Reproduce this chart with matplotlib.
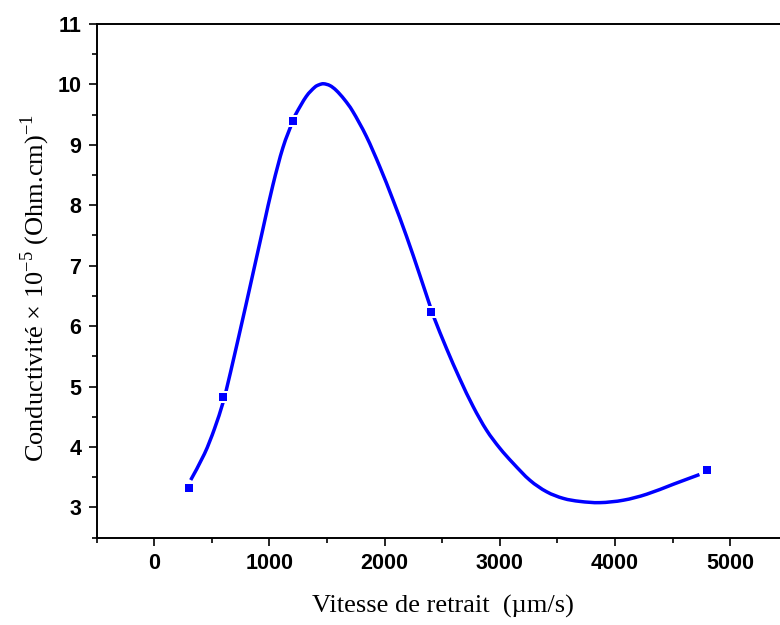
import matplotlib
matplotlib.use("Agg")
import matplotlib.pyplot as plt
from matplotlib.path import Path
from matplotlib.patches import PathPatch
from matplotlib.ticker import MultipleLocator

# measured points
vitesse = [300, 600, 1200, 2400, 4800]
conduct = [3.33, 4.82, 9.40, 6.24, 3.62]

# smooth curve
curve_x = [316, 435, 522, 594, 632, 696, 768, 826, 942, 1029, 1116, 1200,
           1232, 1319, 1391, 1430, 1470, 1525, 1580, 1650, 1724, 1841, 1957,
           2072, 2189, 2304, 2400, 2435, 2537, 2652, 2768, 2884, 3000, 3116,
           3261, 3406, 3551, 3696, 3870, 4072, 4276, 4507, 4733]
curve_y = [3.454, 3.886, 4.300, 4.72, 5.00, 5.52, 6.12, 6.61, 7.60, 8.33,
           8.95, 9.38, 9.52, 9.80, 9.95, 9.993, 10.01, 9.98, 9.90, 9.75,
           9.55, 9.14, 8.64, 8.09, 7.49, 6.85, 6.30, 6.11, 5.63, 5.13, 4.67,
           4.28, 3.98, 3.73, 3.45, 3.26, 3.15, 3.10, 3.08, 3.12, 3.22, 3.385,
           3.545]

xticks = [0, 1000, 2000, 3000, 4000, 5000]
yticks = [3, 4, 5, 6, 7, 8, 9, 10, 11]


def smooth_path(xs, ys):
    # catmull-rom through the read points, as bezier segments
    pts = list(zip(xs, ys))
    verts = [pts[0]]
    codes = [Path.MOVETO]
    n = len(pts)
    for i in range(n - 1):
        p0 = pts[max(i - 1, 0)]
        p1 = pts[i]
        p2 = pts[i + 1]
        p3 = pts[min(i + 2, n - 1)]
        c1 = (p1[0] + (p2[0] - p0[0]) / 6, p1[1] + (p2[1] - p0[1]) / 6)
        c2 = (p2[0] - (p3[0] - p1[0]) / 6, p2[1] - (p3[1] - p1[1]) / 6)
        verts += [c1, c2, p2]
        codes += [Path.CURVE4] * 3
    return Path(verts, codes)


plt.rcParams["mathtext.fontset"] = "custom"
plt.rcParams["mathtext.rm"] = "Liberation Serif"

fig = plt.figure(figsize=(7.8, 6.25), dpi=100)
ax = fig.add_axes([0.124, 0.1397, 0.886, 0.822])

ax.add_patch(PathPatch(smooth_path(curve_x, curve_y), fc="none",
                       ec="#0000ff", lw=2.5, joinstyle="round",
                       capstyle="butt", zorder=2))
# white square under each marker leaves the gap in the line
ax.plot(vitesse, conduct, "s", color="white", ms=8.5, mew=0, zorder=3)
ax.plot(vitesse, conduct, "s", color="#0000ff", ms=5.2, mew=0, zorder=4)

ax.set_xlim(-500, 5500)
ax.set_ylim(2.5, 11)
ax.set_xticks(xticks)
ax.set_yticks(yticks)
ax.xaxis.set_minor_locator(MultipleLocator(500))
ax.yaxis.set_minor_locator(MultipleLocator(0.5))

for lab in ax.get_xticklabels() + ax.get_yticklabels():
    lab.set_fontfamily("Liberation Sans")
    lab.set_fontweight("bold")
    lab.set_fontsize(15.5)

ax.tick_params(which="major", direction="out", length=6, width=1.2, pad=5)
ax.tick_params(which="minor", direction="out", length=3.5, width=1.2)
for s in ["left", "bottom", "top"]:
    ax.spines[s].set_linewidth(1.4)
ax.spines["right"].set_visible(False)

fig.text(443 / 780, 1 - 606 / 625, "Vitesse de retrait  (µm/s)",
         family="Liberation Serif", fontsize=19, ha="center", va="center")
fig.text(35 / 780, 1 - 288 / 625,
         r"Conductivité $\times$ 10$^{\mathrm{-5}}$ (Ohm.cm)$^{\mathrm{-1}}$",
         family="Liberation Serif", fontsize=19, ha="center", va="center",
         rotation=90)

fig.savefig("out.png", dpi=100)
